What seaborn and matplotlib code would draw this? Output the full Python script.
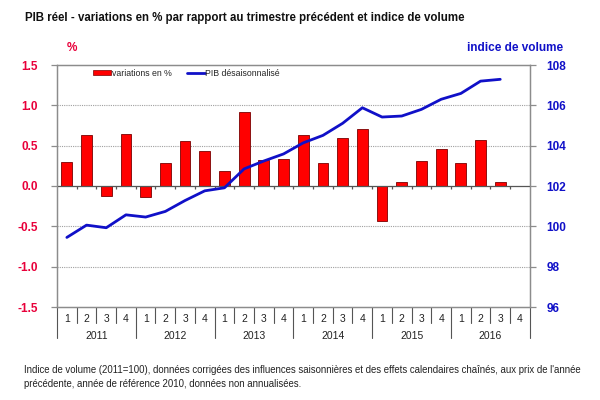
import numpy as np
import pandas as pd
import seaborn as sns
import matplotlib.pyplot as plt
from matplotlib.patches import Patch
from matplotlib.lines import Line2D
import matplotlib.transforms as mtransforms

years = ["2011", "2012", "2013", "2014", "2015", "2016"]
quarters = ["1", "2", "3", "4"]

# variation trimestrielle du PIB, en %
variations = [0.30, 0.63, -0.12, 0.65,
              -0.14, 0.28, 0.56, 0.43,
              0.19, 0.92, 0.32, 0.33,
              0.63, 0.29, 0.60, 0.71,
              -0.43, 0.05, 0.31, 0.46,
              0.28, 0.57, 0.05]

# indice de volume (2011=100)
indice = [99.45, 100.06, 99.93, 100.57,
          100.46, 100.74, 101.28, 101.76,
          101.91, 102.85, 103.24, 103.59,
          104.14, 104.51, 105.11, 105.88,
          105.42, 105.47, 105.80, 106.30,
          106.59, 107.20, 107.29]

red = "#FF0000"
blue = "#1010C8"
grey = "#8C8C8C"

sns.set_style("white")
plt.rcParams["font.family"] = ["Liberation Sans", "DejaVu Sans"]

df = pd.DataFrame({"pos": np.arange(len(variations)),
                   "var": variations,
                   "ind": indice})

fig = plt.figure(figsize=(6, 4), dpi=100)
ax = fig.add_axes([0.095, 0.2325, 0.788, 0.605])

sns.barplot(data=df, x="pos", y="var", color=red, saturation=1,
            width=0.55, edgecolor="#7A0000", linewidth=0.6, ax=ax, zorder=3)

ax.set_xlim(-0.5, 4 * len(years) - 0.5)
ax.set_ylim(-1.5, 1.5)
ax.set_yticks(np.arange(-1.5, 1.51, 0.5))
ax.set_yticklabels([f"{v:.1f}" for v in np.arange(-1.5, 1.51, 0.5)])
ax.set_xticks([])
ax.set_xlabel("")
ax.set_ylabel("")
for v in [-1.0, -0.5, 0.5, 1.0]:
    ax.axhline(v, color="#A0A0A0", lw=0.8, ls=(0, (1, 1)), zorder=1)
ax.axhline(0, color="#555555", lw=0.9, zorder=4)
bounds = np.arange(0.5, 4 * len(years) - 0.5, 1)
ax.vlines(bounds, -0.035, 0, color="#555555", lw=0.9, zorder=4)

for s in ax.spines.values():
    s.set_color(grey)
    s.set_linewidth(0.9)
ax.tick_params(axis="y", colors=grey, length=4, width=0.9, direction="out", pad=10)
for t in ax.get_yticklabels():
    t.set_color("#E8003A")
    t.set_fontweight("bold")
    t.set_fontsize(8.5)

ax2 = ax.twinx()
sns.lineplot(data=df, x="pos", y="ind", color=blue, lw=2.0, ax=ax2, zorder=5)
ax2.set_ylim(96, 108)
ax2.set_yticks(np.arange(96, 109, 2))
ax2.set_xlim(-0.5, 4 * len(years) - 0.5)
ax2.set_ylabel("")
ax2.set_xlabel("")
for s in ax2.spines.values():
    s.set_color(grey)
    s.set_linewidth(0.9)
ax2.tick_params(axis="y", colors=grey, length=4, width=0.9, direction="out", pad=8)
for t in ax2.get_yticklabels():
    t.set_color(blue)
    t.set_fontweight("bold")
    t.set_fontsize(8.5)

# axe des trimestres / annees sous le graphique
trans = mtransforms.blended_transform_factory(ax.transData, ax.transAxes)
for i in range(4 * len(years)):
    ax.text(i, -0.05, quarters[i % 4], transform=trans, ha="center", va="center",
            fontsize=7.5, color="#222222")
for k, y in enumerate(years):
    ax.text(4 * k + 1.5, -0.12, y, transform=trans, ha="center", va="center",
            fontsize=7.5, color="#222222")
for b in np.arange(-0.5, 4 * len(years), 1):
    low = -0.128 if (b + 0.5) % 4 == 0 else -0.066
    ax.plot([b, b], [0, low], transform=trans, color="#555555", lw=0.8,
            clip_on=False)

handles = [Patch(facecolor=red, edgecolor="#7A0000", lw=0.5),
           Line2D([], [], color=blue, lw=2)]
ax.legend(handles, ["variations en %", "PIB désaisonnalisé"], ncol=2,
          loc="upper left", bbox_to_anchor=(0.06, 1.018), frameon=False,
          fontsize=6.3, handlelength=2.0, handleheight=0.4, handletextpad=0.1,
          columnspacing=1.8)

fig.text(0.042, 0.955, "PIB réel - variations en % par rapport au trimestre précédent et indice de volume",
         fontsize=8.3, fontweight="bold", color="#111111", va="center")
fig.text(0.12, 0.88, "%", color="#E8003A", fontsize=8.5, fontweight="bold",
         ha="center", va="center")
fig.text(0.858, 0.88, "indice de volume", color=blue, fontsize=8.5,
         fontweight="bold", ha="center", va="center")
fig.text(0.04, 0.058,
         "Indice de volume (2011=100), données corrigées des influences saisonnières et des effets calendaires chaînés, aux prix de l'année\n"
         "précédente, année de référence 2010, données non annualisées.",
         fontsize=6.9, color="#222222", va="center", linespacing=1.55)

fig.savefig("out.png", dpi=100)
